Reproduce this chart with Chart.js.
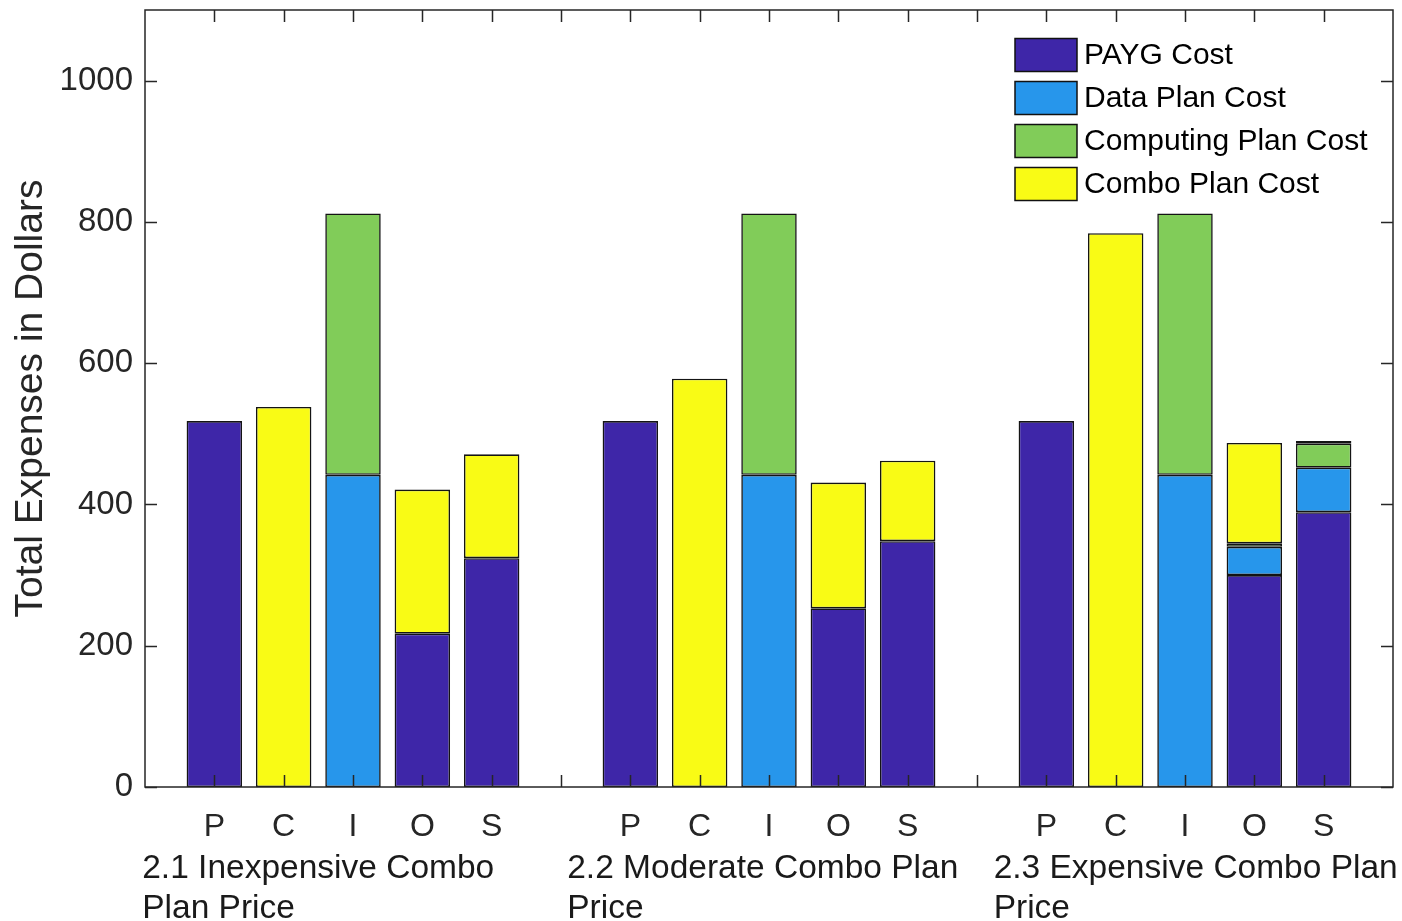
<!DOCTYPE html>
<html><head><meta charset="utf-8">
<script src="https://cdn.jsdelivr.net/npm/chart.js@4.4.0/dist/chart.umd.min.js"></script>
<style>html,body{margin:0;padding:0;background:#fff;overflow:hidden;}</style>
</head><body>
<canvas id="c" width="1402" height="921"></canvas>
<script>
const categories = ['', 'P','C','I','O','S', '', 'P','C','I','O','S', '', 'P','C','I','O','S', ''];
const groupLabels = [['2.1 Inexpensive Combo','Plan Price'],['2.2 Moderate Combo Plan','Price'],['2.3 Expensive Combo Plan','Price']];
const seriesNames = ['PAYG Cost','Data Plan Cost','Computing Plan Cost','Combo Plan Cost'];
const paygCost          = [null,518,null,null,217,324, null,518,null,null,253,348, null,518,null,null,300,389, null];
const dataPlanCost      = [null,null,null,442,null,null, null,null,null,442,null,null, null,null,null,442,40,63, null];
const computingPlanCost = [null,null,null,370,null,null, null,null,null,370,null,null, null,null,null,370,5,34, null];
const comboPlanCost     = [null,null,538,null,204,147, null,null,578,null,178,114, null,null,784,null,142,4, null];
const yTicks = [0,200,400,600,800,1000];

const colors = ['#3e26a8','#2796eb','#81cc59','#f9fb15'];
const FONT = "'Liberation Sans', Arial, Helvetica, sans-serif";
const AX = '#262626';

const frame = {
  id: 'frame',
  afterDraw(chart) {
    const ctx = chart.ctx, a = chart.chartArea;
    const xs = chart.scales.x, ys = chart.scales.y;
    ctx.save();
    ctx.strokeStyle = AX; ctx.lineWidth = 1.5;
    ctx.strokeRect(a.left, a.top, a.right - a.left, a.bottom - a.top);
    const tl = 12;
    ctx.beginPath();
    for (let i = 1; i < categories.length - 1; i++) {
      const px = Math.round(xs.getPixelForValue(i)) + 0.5;
      ctx.moveTo(px, a.bottom); ctx.lineTo(px, a.bottom - tl);
      ctx.moveTo(px, a.top); ctx.lineTo(px, a.top + tl);
    }
    yTicks.forEach(v => {
      const py = Math.round(ys.getPixelForValue(v)) + 0.5;
      ctx.moveTo(a.left, py); ctx.lineTo(a.left + tl, py);
      ctx.moveTo(a.right, py); ctx.lineTo(a.right - tl, py);
    });
    ctx.stroke();
    // group labels
    const starts = [-0.04, 6.09, 12.24];
    ctx.fillStyle = '#1a1a1a';
    ctx.font = '33.5px ' + FONT;
    ctx.textAlign = 'left'; ctx.textBaseline = 'alphabetic';
    groupLabels.forEach((lines, g) => {
      const px = xs.getPixelForValue(starts[g]);
      lines.forEach((t, j) => ctx.fillText(t, px, a.bottom + 91 + j * 40));
    });
    // legend
    ctx.font = '30px ' + FONT;
    ctx.textBaseline = 'middle';
    chart.data.datasets.forEach((ds, i) => {
      const cy = a.top + 45 + i * 43;
      const sx = a.right - 378;
      ctx.fillStyle = ds.backgroundColor;
      ctx.fillRect(sx, cy - 16.5, 62, 33);
      ctx.strokeStyle = '#111'; ctx.lineWidth = 1.5;
      ctx.strokeRect(sx, cy - 16.5, 62, 33);
      ctx.fillStyle = '#000';
      ctx.fillText(ds.label, a.right - 309, cy + 1);
    });
    ctx.restore();
  }
};

const series = [paygCost, dataPlanCost, computingPlanCost, comboPlanCost];
new Chart(document.getElementById('c'), {
  type: 'bar',
  data: {
    labels: categories,
    datasets: series.map((d, i) => ({
      label: seriesNames[i], data: d, stack: 's',
      backgroundColor: colors[i], borderColor: '#141414', borderWidth: 1.6,
      borderSkipped: false, categoryPercentage: 1, barPercentage: 0.8
    }))
  },
  options: {
    responsive: false, animation: false,
    layout: { padding: { top: 10, right: 9, left: 0, bottom: 0 } },
    plugins: { legend: { display: false }, tooltip: { enabled: false } },
    scales: {
      x: {
        stacked: true, offset: false,
        grid: { display: false }, border: { display: false },
        ticks: { autoSkip: false, maxRotation: 0, minRotation: 0, padding: 13, color: AX, font: { family: FONT, size: 32 } },
        afterFit: s => { s.height = 134; s.paddingLeft = 0; s.paddingRight = 0; }
      },
      y: {
        stacked: true, min: 0, max: 1100,
        afterBuildTicks: s => { s.ticks = yTicks.map(v => ({ value: v })); },
        grid: { display: false }, border: { display: false },
        ticks: { padding: 4, color: AX, font: { family: FONT, size: 33 }, callback: v => String(v) },
        title: { display: true, text: 'Total Expenses in Dollars', color: AX, font: { family: FONT, size: 39 }, padding: { top: 8, bottom: 0 } },
        afterFit: s => { s.width = 145; s.paddingTop = 0; s.paddingBottom = 0; }
      }
    }
  },
  plugins: [frame]
});
</script>
</body></html>
